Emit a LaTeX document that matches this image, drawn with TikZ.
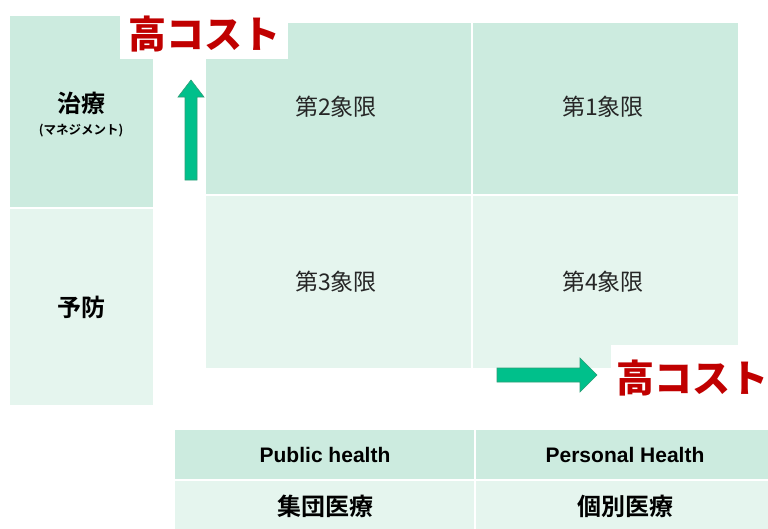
\documentclass[tikz,border=0pt]{standalone}
\usepackage{fontspec}
\setmainfont{Liberation Sans}
\newfontfamily\cjk{Noto Sans CJK JP}
\newfontfamily\cjkb{Noto Sans CJK JP Bold}
\newfontfamily\cjkh{Noto Sans CJK JP Black}
\definecolor{dk}{HTML}{CCEBDF}
\definecolor{lt}{HTML}{E5F5EE}
\definecolor{rd}{HTML}{C00000}
\definecolor{ag}{HTML}{00C08B}
\definecolor{agd}{HTML}{2E9E77}
\tikzset{
  cell/.style={draw=white, line width=1.5pt},
  qlab/.style={font=\cjk\fontsize{23}{26}\selectfont, text=black!85},
  llab/.style={font=\cjkb\fontsize{24}{26}\selectfont, align=center},
  cost/.style={font=\cjkh\fontsize{38}{42}\selectfont, text=rd, inner sep=0pt},
  arr/.style={fill=ag, draw=agd, line width=0.6pt, line join=miter}
}
\begin{document}
\begin{tikzpicture}[x=1pt,y=-1pt]
\useasboundingbox (0,0) rectangle (768,528);
\fill[white] (0,0) rectangle (768,528);
% left column
\filldraw[cell, fill=dk] (9,15) rectangle (154,208);
\filldraw[cell, fill=lt] (9,208) rectangle (154,406);
\node[llab] (chiryo) at (81,103) {治療};
\node[font=\cjkb\fontsize{12.5}{14}\selectfont] (mgmt) at (81,131) {(マネジメント)};
\node[llab] (yobo) at (81,307) {予防};
% grid
\filldraw[cell, fill=dk] (205,22) rectangle (472,195);
\filldraw[cell, fill=dk] (472,22) rectangle (739,195);
\filldraw[cell, fill=lt] (205,195) rectangle (472,369);
\filldraw[cell, fill=lt] (472,195) rectangle (739,369);
\node[qlab] (q2) at (336,107) {第2象限};
\node[qlab] (q1) at (603,107) {第1象限};
\node[qlab] (q3) at (336,282) {第3象限};
\node[qlab] (q4) at (603,282) {第4象限};
% white cost boxes
\fill[white] (120,10) rectangle (288,59);
\fill[white] (611,345) rectangle (768,410);
\node[cost] (costtop) at (204,34) {高コスト};
\node[cost] (costright) at (692,378) {高コスト};
% arrows
\draw[arr] (185,180) -- (185,97) -- (178,97) -- (191,80) -- (204,97) -- (197,97) -- (197,180) -- cycle;
\draw[arr] (497,368) -- (580,368) -- (580,358) -- (597,375) -- (580,392) -- (580,382) -- (497,382) -- cycle;
% bottom table
\filldraw[cell, fill=dk] (174,429) rectangle (475,480);
\filldraw[cell, fill=dk] (475,429) rectangle (770,480);
\filldraw[cell, fill=lt] (174,480) rectangle (475,530);
\filldraw[cell, fill=lt] (475,480) rectangle (770,530);
\node[font=\bfseries\fontsize{21}{24}\selectfont] (ph) at (325,455) {Public health};
\node[font=\bfseries\fontsize{21}{24}\selectfont] (prh) at (625,455) {Personal Health};
\node[llab] (shudan) at (325,506) {集団医療};
\node[llab] (kobetsu) at (625,506) {個別医療};
\end{tikzpicture}
\end{document}
